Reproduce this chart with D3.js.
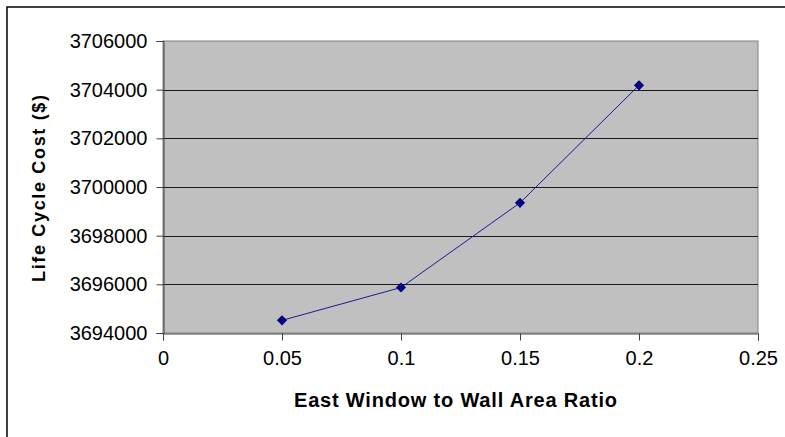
<!DOCTYPE html>
<html>
<head>
<meta charset="utf-8">
<script src="https://cdn.jsdelivr.net/npm/d3@7"></script>
<style>
  html, body { margin: 0; padding: 0; background: #fff; }
  svg { display: block; }
  text { font-family: "Liberation Sans", Arial, sans-serif; fill: #000; }
</style>
</head>
<body>
<svg id="chart" width="785" height="437"></svg>
<script>
// Window-to-wall ratio on the east facade vs. life cycle cost
const ratios = [0.05, 0.1, 0.15, 0.2];
const lifeCycleCost = [3694520, 3695870, 3699350, 3704180];
const xTicks = [0, 0.05, 0.1, 0.15, 0.2, 0.25];
const yTicks = [3694000, 3696000, 3698000, 3700000, 3702000, 3704000, 3706000];
const xTitle = "East Window to Wall Area Ratio";
const yTitle = "Life Cycle Cost ($)";

const svg = d3.select("#chart");
const plot = { left: 163, right: 758, top: 41, bottom: 333 };

const x = d3.scaleLinear().domain([0, 0.25]).range([plot.left, plot.right]);
const y = d3.scaleLinear().domain([3694000, 3706000]).range([plot.bottom, plot.top]);

// outer chart frame
svg.append("rect")
  .attr("x", 7).attr("y", 7).attr("width", 800).attr("height", 450)
  .attr("fill", "none").attr("stroke", "#000").attr("stroke-width", 1.5);

// plot area background
svg.append("rect")
  .attr("x", plot.left).attr("y", plot.top)
  .attr("width", plot.right - plot.left).attr("height", plot.bottom - plot.top)
  .attr("fill", "#c0c0c0").attr("stroke", "#808080").attr("stroke-width", 1);

// horizontal gridlines
svg.append("g")
  .selectAll("line")
  .data(yTicks.slice(1, -1))
  .join("line")
  .attr("x1", plot.left).attr("x2", plot.right)
  .attr("y1", d => Math.round(y(d)) + 0.5).attr("y2", d => Math.round(y(d)) + 0.5)
  .attr("stroke", "#1a1a1a").attr("stroke-width", 1.2);

// y axis
const yAxis = svg.append("g")
  .attr("transform", `translate(${plot.left + 0.5},0)`)
  .call(d3.axisLeft(y).tickValues(yTicks).tickFormat(d3.format("d")).tickSize(7).tickPadding(9));
yAxis.select(".domain").attr("stroke", "#404040");
yAxis.selectAll(".tick line").attr("stroke", "#404040");
yAxis.selectAll("text").style("font-size", "20px").attr("fill", "#000");

// x axis
const xAxis = svg.append("g")
  .attr("transform", `translate(0,${plot.bottom + 0.5})`)
  .call(d3.axisBottom(x).tickValues(xTicks).tickFormat(d => String(d)).tickSize(7).tickPadding(10));
xAxis.select(".domain").attr("stroke", "#404040");
xAxis.selectAll(".tick line").attr("stroke", "#404040");
xAxis.selectAll("text").style("font-size", "20px").attr("fill", "#000");

// axis titles
svg.append("text")
  .attr("x", (plot.left + plot.right) / 2 - 5)
  .attr("y", 407)
  .attr("text-anchor", "middle")
  .attr("textLength", 323).attr("lengthAdjust", "spacing")
  .style("font-size", "20px").style("font-weight", "bold")
  .text(xTitle);

svg.append("text")
  .attr("transform", `translate(45,${(95 + 282) / 2}) rotate(-90)`)
  .attr("text-anchor", "middle")
  .attr("textLength", 187).attr("lengthAdjust", "spacing")
  .style("font-size", "18px").style("font-weight", "bold")
  .text(yTitle);

// series line and diamond markers
const points = ratios.map((r, i) => [r, lifeCycleCost[i]]);
svg.append("path")
  .datum(points)
  .attr("fill", "none")
  .attr("stroke", "#1c1c8c")
  .attr("stroke-width", 1)
  .attr("d", d3.line().x(d => x(d[0])).y(d => y(d[1])));

const diamond = d3.symbol().type(d3.symbolSquare).size(52);
svg.append("g")
  .selectAll("path")
  .data(points)
  .join("path")
  .attr("d", diamond)
  .attr("transform", d => `translate(${x(d[0])},${y(d[1])}) rotate(45)`)
  .attr("fill", "#000080");
</script>
</body>
</html>
